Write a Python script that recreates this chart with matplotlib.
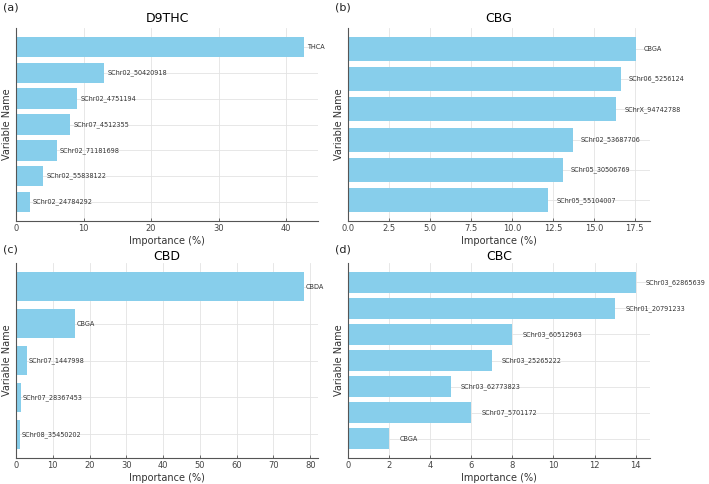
import matplotlib.pyplot as plt
from matplotlib.ticker import MultipleLocator

# panel data (top bar first)
d9thc_names = ["THCA", "SChr02_50420918", "SChr02_4751194", "SChr07_4512355",
               "SChr02_71181698", "SChr02_55838122", "SChr02_24784292"]
d9thc_values = [42.6, 13, 9, 8, 6, 4, 2]

cbg_names = ["CBGA", "SChr06_5256124", "SChrX_94742788", "SChr02_53687706",
             "SChr05_30506769", "SChr05_55104007"]
cbg_values = [17.55, 16.63, 16.35, 13.71, 13.1, 12.23]

cbd_names = ["CBDA", "CBGA", "SChr07_1447998", "SChr07_28367453", "SChr08_35450202"]
cbd_values = [78.2, 16, 3, 1.3, 1.0]

cbc_names = ["SChr03_62865639", "SChr01_20791233", "SChr03_60512963", "SChr03_25265222",
             "SChr03_62773823", "SChr07_5701172", "CBGA"]
cbc_values = [14, 13, 8, 7, 5, 6, 2]

panels = [
    ("(a)", "D9THC", d9thc_names, d9thc_values, 10, [16, 28, 318, 221], 8, 4),
    ("(b)", "CBG", cbg_names, cbg_values, 2.5, [348, 28, 650, 221], 8, 4),
    ("(c)", "CBD", cbd_names, cbd_values, 10, [16, 263, 318, 458], 250, 1),
    ("(d)", "CBC", cbc_names, cbc_values, 2, [348, 263, 650, 458], 250, 1),
]

W, H = 709, 484
fig = plt.figure(figsize=(W / 100, H / 100), dpi=100)

for letter, title, names, values, step, (x0, y0, x1, y1), ly, tpad in panels:
    ax = fig.add_axes([x0 / W, 1 - y1 / H, (x1 - x0) / W, (y1 - y0) / H])
    pos = list(range(len(names)))
    ax.barh(pos, values, height=0.8, color="#87CEEB", zorder=2)
    ax.invert_yaxis()
    for p, v, n in zip(pos, values, names):
        ax.text(v + 0.5, p, n, fontsize=4.7, color="#333333", ha="left", va="center")
    ax.xaxis.set_major_locator(MultipleLocator(step))
    ax.set_yticks(pos)
    ax.set_yticklabels([])
    ax.grid(True, color="#e3e3e3", linewidth=0.6, zorder=0)
    ax.set_axisbelow(True)
    for s in ["top", "right"]:
        ax.spines[s].set_visible(False)
    for s in ["left", "bottom"]:
        ax.spines[s].set_color("#555555")
        ax.spines[s].set_linewidth(0.8)
    ax.tick_params(axis="both", direction="in", length=2.5, width=0.6,
                   color="#555555", labelsize=6, labelcolor="#444444", pad=2)
    ax.set_title(title, fontsize=9, pad=tpad)
    ax.set_xlabel("Importance (%)", fontsize=7, color="#333333", labelpad=2)
    ax.set_ylabel("Variable Name", fontsize=7, color="#333333", labelpad=1)
    fig.text((x0 - 13) / W, 1 - ly / H, letter, fontsize=8, color="#222222",
             ha="left", va="center")

fig.savefig("out.png", dpi=100)
